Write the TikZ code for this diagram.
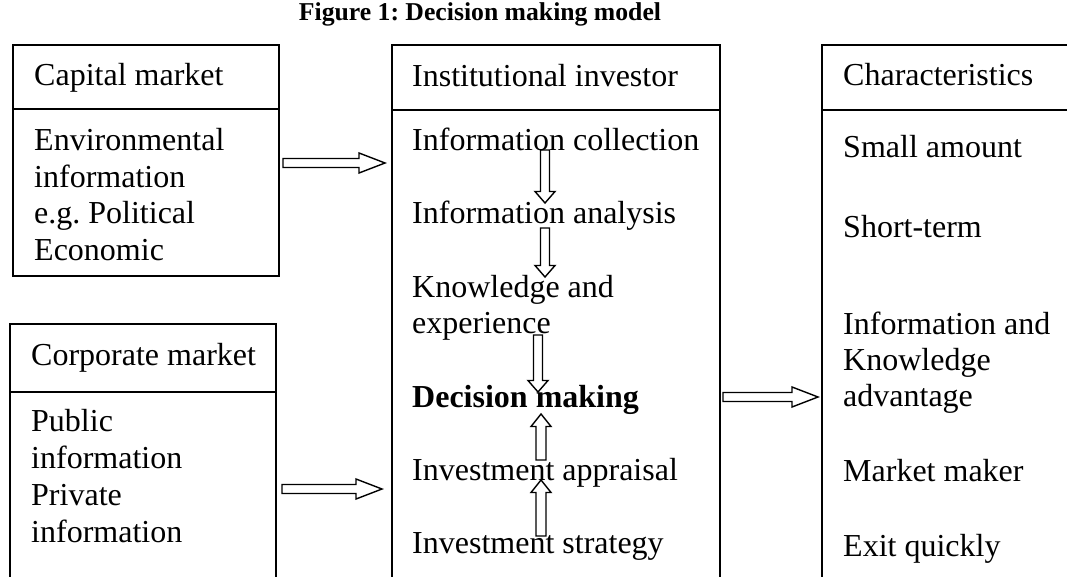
\documentclass[tikz,border=0pt]{standalone}
\usepackage{fontspec}
\setmainfont{Liberation Serif}
\usetikzlibrary{calc}
\frenchspacing
\tikzset{
  box/.style={draw, line width=1.6pt, inner sep=0pt, outer sep=0pt, anchor=north west},
  divider/.style={line width=1.6pt},
  txt/.style={inner sep=0pt, anchor=base west, font=\fontsize{32}{37}\selectfont},
  blk/.style={draw, line width=1.4pt, line join=miter},
}
\newcommand\rblockarrow[2]{\draw[blk] ($(#1)+(0,-4.5)$) -- ($(#2)+(-26,-4.5)$) -- ($(#2)+(-26,-10)$) -- (#2) -- ($(#2)+(-26,10)$) -- ($(#2)+(-26,4.5)$) -- ($(#1)+(0,4.5)$) -- cycle;}
\newcommand\dblockarrow[2]{\draw[blk] ($(#1)+(-4.5,0)$) -- ($(#2)+(-4.5,-11.5)$) -- ($(#2)+(-10,-11.5)$) -- (#2) -- ($(#2)+(10,-11.5)$) -- ($(#2)+(4.5,-11.5)$) -- ($(#1)+(4.5,0)$) -- cycle;}
\newcommand\ublockarrow[2]{\draw[blk] ($(#1)+(-5,0)$) -- ($(#2)+(-5,12.5)$) -- ($(#2)+(-10,12.5)$) -- (#2) -- ($(#2)+(10,12.5)$) -- ($(#2)+(5,12.5)$) -- ($(#1)+(5,0)$) -- cycle;}
\begin{document}
\begin{tikzpicture}[x=1pt,y=-1pt]
\useasboundingbox (0,0) rectangle (1067,577);
\clip (0,0) rectangle (1067,577);

% title
\node[inner sep=0pt, anchor=base, font=\bfseries\fontsize{25.7}{30}\selectfont] (title) at (480,21) {Figure 1: Decision making model};

% boxes
\node[box, minimum width=266pt, minimum height=231pt] (cap) at (13,45) {};
\draw[divider] (13,109) -- (279,109);
\node[box, minimum width=266pt, minimum height=300pt] (corp) at (10,324) {};
\draw[divider] (10,392) -- (276,392);
\node[box, minimum width=328pt, minimum height=600pt] (inst) at (392,45) {};
\draw[divider] (392,110) -- (720,110);
\node[box, minimum width=300pt, minimum height=600pt] (char) at (822,45) {};
\draw[divider] (822,110) -- (1122,110);

% capital market
\node[txt] (capH) at (34,86) {Capital market};
\node[txt] (cap1) at (34,151) {Environmental};
\node[txt] (cap2) at (34,187.5) {information};
\node[txt] (cap3) at (34,224) {e.g. Political};
\node[txt] (cap4) at (34,260.5) {Economic};

% corporate market
\node[txt] (corpH) at (31,365) {Corporate market};
\node[txt] (corp1) at (31,431) {Public};
\node[txt] (corp2) at (31,468) {information};
\node[txt] (corp3) at (31,505) {Private};
\node[txt] (corp4) at (31,542) {information};

% institutional investor
\node[txt] (instH) at (412,87) {Institutional investor};
\node[txt] (i1) at (412,151) {Information collection};
\node[txt] (i2) at (412,224) {Information analysis};
\node[txt] (i3) at (412,297) {Knowledge and};
\node[txt] (i3b) at (412,333) {experience};
\node[txt, font=\bfseries\fontsize{32}{37}\selectfont] (i4) at (412,407) {Decision making};
\node[txt] (i5) at (412,480) {Investment appraisal};
\node[txt] (i6) at (412,553) {Investment strategy};

% characteristics
\node[txt] (charH) at (843,86) {Characteristics};
\node[txt] (c1) at (843,158) {Small amount};
\node[txt] (c2) at (843,238) {Short-term};
\node[txt] (c3) at (843,334) {Information and};
\node[txt] (c3b) at (843,370) {Knowledge};
\node[txt] (c3c) at (843,406) {advantage};
\node[txt] (c4) at (843,481) {Market maker};
\node[txt] (c5) at (843,556) {Exit quickly};

% connector end points
\coordinate (capOut) at (283,163);
\coordinate (instIn1) at (385,163);
\coordinate (corpOut) at (282,489);
\coordinate (instIn2) at (382,489);
\coordinate (instOut) at (723,397);
\coordinate (charIn) at (818,397);
\coordinate (v1s) at (545,150);
\coordinate (v1e) at (545,203);
\coordinate (v2s) at (545,228);
\coordinate (v2e) at (545,277);
\coordinate (v3s) at (538,335);
\coordinate (v3e) at (538,392);
\coordinate (v4s) at (541,460);
\coordinate (v4e) at (541,414);
\coordinate (v5s) at (541,536);
\coordinate (v5e) at (541,480);

% block arrows
\rblockarrow{capOut}{instIn1}
\rblockarrow{corpOut}{instIn2}
\rblockarrow{instOut}{charIn}
\dblockarrow{v1s}{v1e}
\dblockarrow{v2s}{v2e}
\dblockarrow{v3s}{v3e}
\ublockarrow{v4s}{v4e}
\ublockarrow{v5s}{v5e}
\end{tikzpicture}
\end{document}
